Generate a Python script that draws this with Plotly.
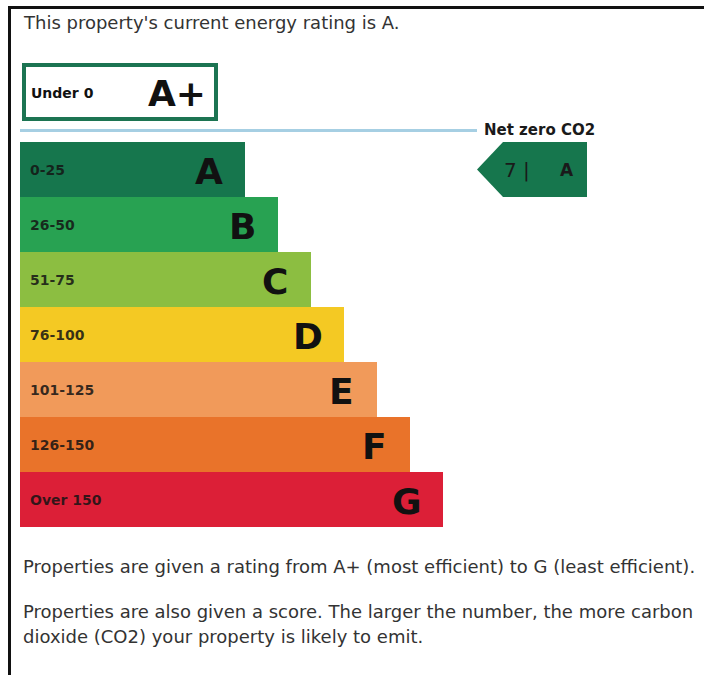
import plotly.graph_objects as go

# ---------------- data ----------------
bands = ["A", "B", "C", "D", "E", "F", "G"]
ranges = ["0-25", "26-50", "51-75", "76-100", "101-125", "126-150", "Over 150"]
band_colors = ["#16764d", "#28a252", "#8cbe41", "#f4c923", "#f19a5a", "#e9732a", "#dc1f37"]
top_band = "A+"
top_range = "Under 0"
current_score = 7
current_rating = "A"
header_text = "This property's current energy rating is A."
footer_lines = [
    "Properties are given a rating from A+ (most efficient) to G (least efficient).",
    "Properties are also given a score. The larger the number, the more carbon",
    "dioxide (CO2) your property is likely to emit.",
]

# ---------------- layout helpers ----------------
W, H = 704, 675
OFF = 0  # body margin removed below, so figure pixel = page pixel
BAND_TOP, BAND_H = 142, 55
BAR_LEFT, BAR_MIN, BAR_STEP = 20, 225, 33
FONT = "DejaVu Sans, Liberation Sans, Arial, sans-serif"


def px(x):
    return (x - OFF) / W


def py(y):
    return 1 - (y - OFF) / H


y_top = (OFF - BAND_TOP) / BAND_H - 0.5
y_bot = (OFF + H - BAND_TOP) / BAND_H - 0.5

idx = list(range(len(bands)))
lengths = [BAR_MIN + BAR_STEP * i for i in idx]

fig = go.Figure()
fig.add_trace(go.Bar(
    y=idx, x=lengths, base=BAR_LEFT, orientation="h", width=1.0,
    marker=dict(color=band_colors, line=dict(width=0)),
    hoverinfo="skip", showlegend=False,
))

annotations = []
for i, (b, r, L) in enumerate(zip(bands, ranges, lengths)):
    annotations.append(dict(x=BAR_LEFT + 8, y=i, xref="x", yref="y", text=f"<b>{r}</b>",
                            showarrow=False, xanchor="left", yanchor="middle",
                            font=dict(family=FONT, size=14, color="rgba(20,20,20,0.85)")))
    annotations.append(dict(x=BAR_LEFT + L - 36, y=i + 0.03, xref="x", yref="y", text=f"<b>{b}</b>",
                            showarrow=False, xanchor="center", yanchor="middle",
                            font=dict(family=FONT, size=36, color="#111")))

# current rating arrow
ri = bands.index(current_rating)
tip_x, body_x, right_x = 477, 503, 587
fig.add_trace(go.Scatter(
    x=[tip_x, body_x, right_x, right_x, body_x, tip_x],
    y=[ri, ri - 0.5, ri - 0.5, ri + 0.5, ri + 0.5, ri],
    fill="toself", fillcolor=band_colors[ri], mode="lines", line=dict(width=0),
    hoverinfo="skip", showlegend=False,
))
annotations.append(dict(x=517, y=ri, xref="x", yref="y", text=f"{current_score} |",
                        showarrow=False, xanchor="center", yanchor="middle",
                        font=dict(family=FONT, size=20, color="#1a1a1a")))
annotations.append(dict(x=567, y=ri, xref="x", yref="y", text=f"<b>{current_rating}</b>",
                        showarrow=False, xanchor="center", yanchor="middle",
                        font=dict(family=FONT, size=17, color="#1a1a1a")))

# Net zero label
annotations.append(dict(x=px(482), y=py(130), xref="paper", yref="paper", text="<b>Net zero CO2</b>",
                        showarrow=False, xanchor="left", yanchor="middle",
                        font=dict(family=FONT, size=15, color="#1a1a1a")))

# A+ box texts
annotations.append(dict(x=px(29), y=py(93), xref="paper", yref="paper", text=f"<b>{top_range}</b>",
                        showarrow=False, xanchor="left", yanchor="middle",
                        font=dict(family=FONT, size=14, color="#111")))
annotations.append(dict(x=px(177), y=py(93), xref="paper", yref="paper", text=f"<b>{top_band}</b>",
                        showarrow=False, xanchor="center", yanchor="middle",
                        font=dict(family=FONT, size=36, color="#111")))

# header / footer
annotations.append(dict(x=px(21), y=py(23), xref="paper", yref="paper", text=header_text,
                        showarrow=False, xanchor="left", yanchor="middle",
                        font=dict(family=FONT, size=18, color="#333")))
for t, yy in zip(footer_lines, [566, 611, 636]):
    annotations.append(dict(x=px(21), y=py(yy), xref="paper", yref="paper", text=t,
                            showarrow=False, xanchor="left", yanchor="middle",
                            font=dict(family=FONT, size=18, color="#333")))

shapes = [
    # outer frame (top and left)
    dict(type="line", xref="paper", yref="paper", x0=px(8), x1=1, y0=py(7.5), y1=py(7.5),
         line=dict(color="#111", width=3)),
    dict(type="line", xref="paper", yref="paper", x0=px(9.5), x1=px(9.5), y0=py(6), y1=0,
         line=dict(color="#111", width=3)),
    # A+ box
    dict(type="rect", xref="paper", yref="paper", x0=px(24), x1=px(216), y0=py(65), y1=py(119),
         line=dict(color="#1c7452", width=4), fillcolor="white"),
    # net zero line
    dict(type="line", xref="paper", yref="paper", x0=px(20), x1=px(477), y0=py(130.5), y1=py(130.5),
         line=dict(color="#a6cfe3", width=3)),
]

fig.update_layout(
    width=W, height=H, margin=dict(l=0, r=0, t=0, b=0),
    paper_bgcolor="white", plot_bgcolor="white",
    xaxis=dict(range=[OFF, OFF + W], visible=False, fixedrange=True),
    yaxis=dict(range=[y_bot, y_top], visible=False, fixedrange=True),
    bargap=0, annotations=annotations, shapes=shapes,
)

fig.write_html("out.html", config={"displayModeBar": False, "staticPlot": True},
               post_script="document.body.style.margin='0';document.body.style.overflow='hidden';")
